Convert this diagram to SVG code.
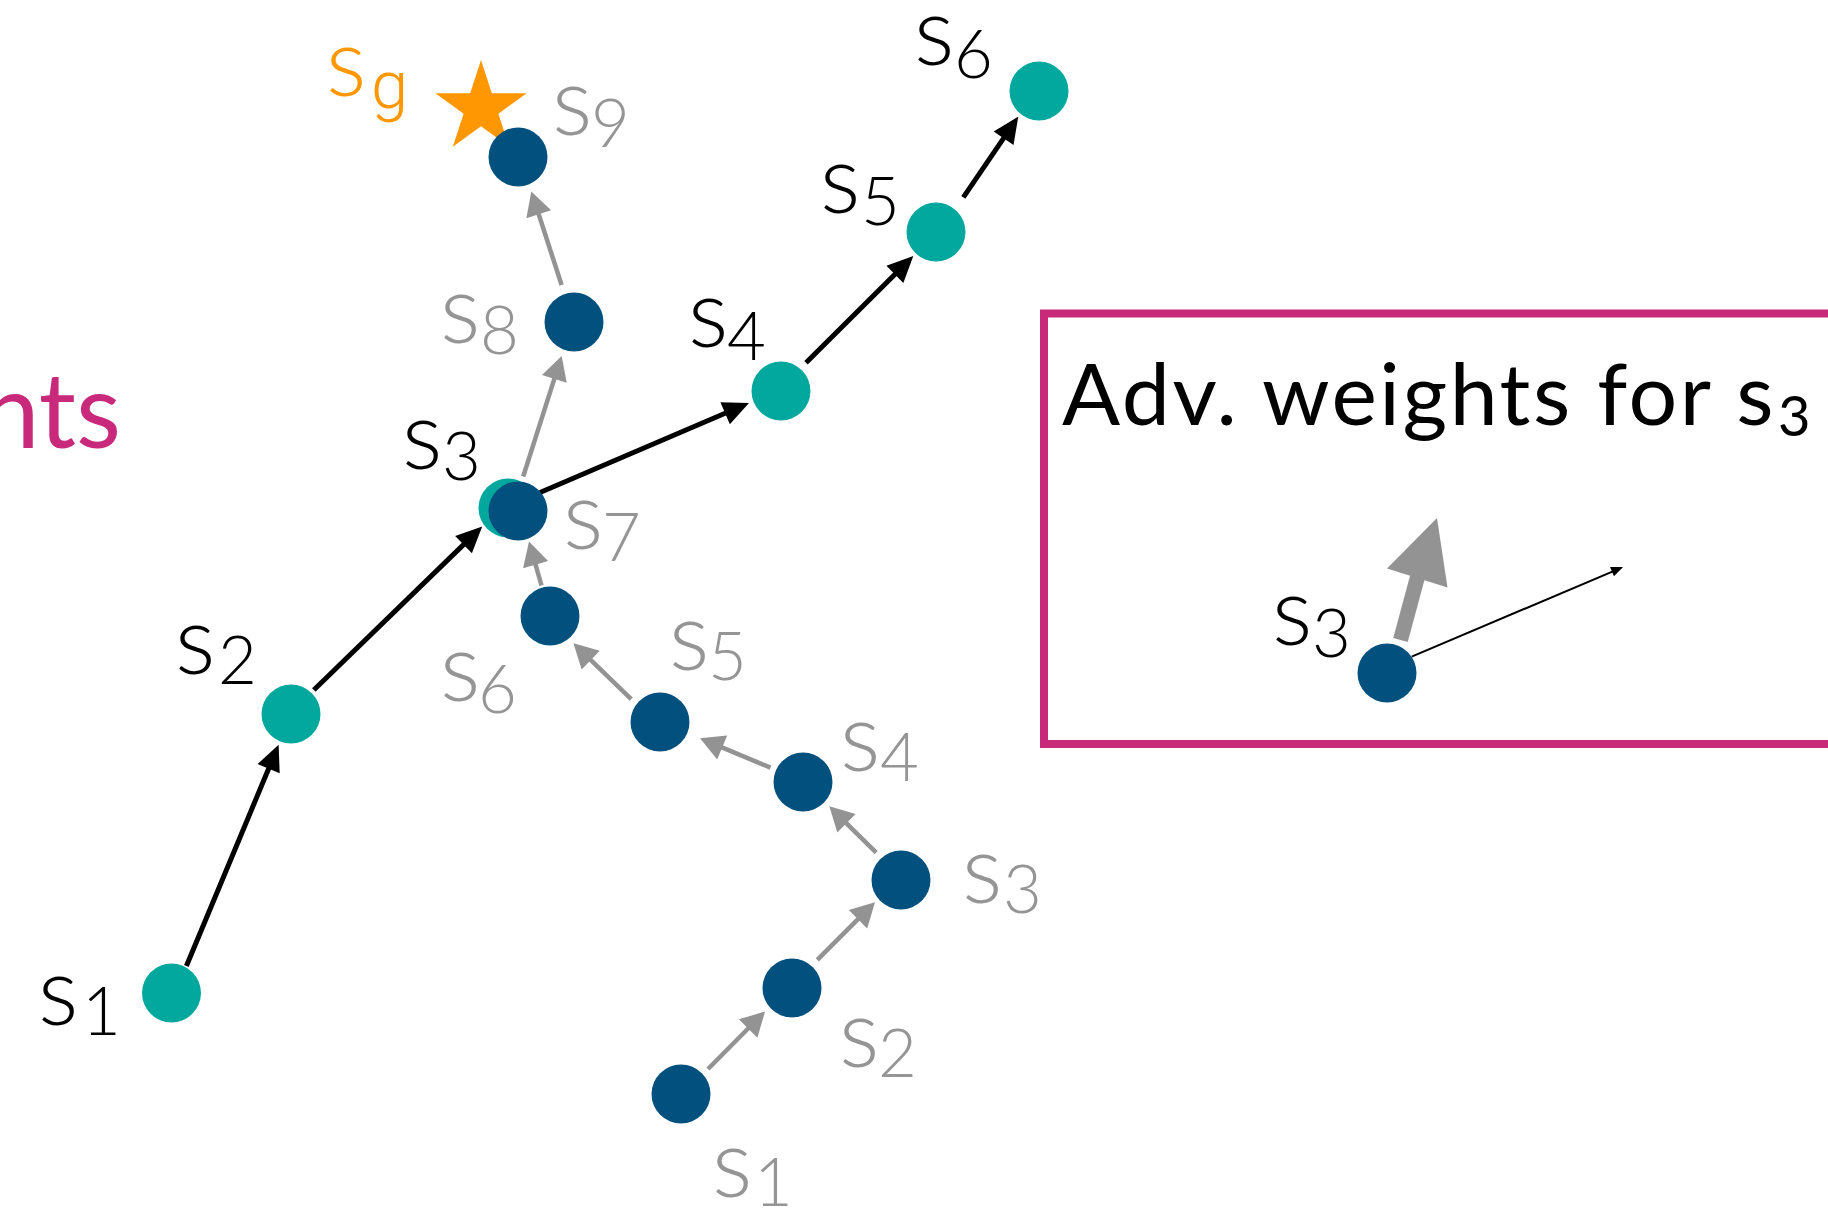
<svg xmlns="http://www.w3.org/2000/svg" width="1828" height="1209" viewBox="0 0 1828 1209">
<defs>
<style>
.lb{font-family:Lato,"Open Sans","DejaVu Sans",sans-serif;font-weight:300;font-size:95px}
.sub{font-size:67px}
.k{fill:#000}
.g{fill:#959595}
.o{fill:#FF9702}
.teal{fill:#02A89E}
.blue{fill:#02507E}
.ck{stroke:#000;stroke-width:5;fill:none}
.cg{stroke:#939393;stroke-width:4.5;fill:none}
</style>
<marker id="hk" markerUnits="userSpaceOnUse" markerWidth="26" markerHeight="24" refX="14" refY="12" orient="auto" overflow="visible">
<path d="M0,0 L26,12 L0,24 Z" fill="#000"/>
</marker>
<marker id="hg" markerUnits="userSpaceOnUse" markerWidth="24" markerHeight="26" refX="12" refY="13" orient="auto" overflow="visible">
<path d="M0,0 L24,13 L0,26 Z" fill="#939393"/>
</marker>
<marker id="hs" markerUnits="userSpaceOnUse" markerWidth="12" markerHeight="10" refX="10" refY="5" orient="auto" overflow="visible">
<path d="M0,0 L12,5 L0,10 Z" fill="#000"/>
</marker>
</defs>
<rect width="1828" height="1209" fill="#fff"/>

<text id="pink-label" x="121" y="448" text-anchor="end" style="font-family:Lato,'Open Sans',sans-serif;font-weight:400;font-size:104px;fill:#C9297B">nts</text>

<g id="goal">
<polygon class="o" points="481,60 491.8,93.2 526.65,93.17 498.4,113.7 509.2,146.8 481,126.3 452.8,146.8 463.6,113.7 435.35,93.17 470.2,93.2"/>
<text class="lb o" x="326" y="96">s<tspan class="sub" x="371" y="108" style="font-family:Roboto,Lato,sans-serif;font-weight:300">g</tspan></text>
</g>

<g id="connectors">
<line class="ck" x1="186.4" y1="966" x2="274" y2="755.8" marker-end="url(#hk)"/>
<line class="ck" x1="313.8" y1="690" x2="473.6" y2="534.9" marker-end="url(#hk)"/>
<line class="ck" x1="540" y1="492.5" x2="738" y2="407.7" marker-end="url(#hk)"/>
<line class="ck" x1="806" y1="362.7" x2="904.8" y2="264.5" marker-end="url(#hk)"/>
<line class="ck" x1="963.3" y1="197.3" x2="1011.5" y2="126.6" marker-end="url(#hk)"/>

<line class="cg" x1="708" y1="1069" x2="756.6" y2="1020" marker-end="url(#hg)"/>
<line class="cg" x1="817.3" y1="959.8" x2="866.5" y2="910.7" marker-end="url(#hg)"/>
<line class="cg" x1="876.2" y1="852.6" x2="837.9" y2="814.8" marker-end="url(#hg)"/>
<line class="cg" x1="770.5" y1="767.7" x2="711.1" y2="742.9" marker-end="url(#hg)"/>
<line class="cg" x1="631.2" y1="699.2" x2="582.1" y2="651.7" marker-end="url(#hg)"/>
<line class="cg" x1="541.5" y1="585.5" x2="532.3" y2="553.1" marker-end="url(#hg)"/>
<line class="cg" x1="523.2" y1="476.5" x2="558" y2="367.4" marker-end="url(#hg)"/>
<line class="cg" x1="561.6" y1="285" x2="535" y2="202.8" marker-end="url(#hg)"/>

<line x1="1400.5" y1="640" x2="1418" y2="575" stroke="#939393" stroke-width="15"/>
<polygon points="1437,518 1387,568.5 1447.5,587.5" fill="#939393"/>
<line x1="1411.7" y1="656.7" x2="1621.2" y2="567.8" stroke="#000" stroke-width="2" marker-end="url(#hs)"/>
</g>

<g id="teal-s1"><circle class="teal" cx="171.5" cy="993" r="29.5"/><text class="lb k" x="38" y="1025">s<tspan class="sub" x="82" y="1035">1</tspan></text></g>
<g id="teal-s2"><circle class="teal" cx="291" cy="714" r="29.5"/><text class="lb k" x="175" y="674">s<tspan class="sub" x="218" y="684">2</tspan></text></g>
<g id="teal-s3"><circle class="teal" cx="508" cy="508" r="29.5"/><text class="lb k" x="402" y="469">s<tspan class="sub" x="442" y="480">3</tspan></text></g>
<g id="teal-s4"><circle class="teal" cx="781" cy="391" r="29.5"/><text class="lb k" x="688" y="347">s<tspan class="sub" x="727" y="360">4</tspan></text></g>
<g id="teal-s5"><circle class="teal" cx="936" cy="232" r="29.5"/><text class="lb k" x="820" y="213">s<tspan class="sub" x="861" y="225">5</tspan></text></g>
<g id="teal-s6"><circle class="teal" cx="1039" cy="91" r="29.5"/><text class="lb k" x="914" y="65">s<tspan class="sub" x="954" y="78">6</tspan></text></g>

<g id="blue-s9"><circle class="blue" cx="518" cy="157" r="29.5"/><text class="lb g" x="552" y="135">s<tspan class="sub" x="591" y="147">9</tspan></text></g>
<g id="blue-s8"><circle class="blue" cx="574" cy="322" r="29.5"/><text class="lb g" x="440" y="343">s<tspan class="sub" x="480" y="354">8</tspan></text></g>
<g id="blue-s7"><circle class="blue" cx="518" cy="511" r="29.5"/><text class="lb g" x="563" y="549">s<tspan class="sub" x="602" y="561">7</tspan></text></g>
<g id="blue-s6"><circle class="blue" cx="550" cy="616" r="29.5"/><text class="lb g" x="440" y="701">s<tspan class="sub" x="478" y="713">6</tspan></text></g>
<g id="blue-s5"><circle class="blue" cx="660" cy="722" r="29.5"/><text class="lb g" x="669" y="670">s<tspan class="sub" x="708" y="680">5</tspan></text></g>
<g id="blue-s4"><circle class="blue" cx="803" cy="782" r="29.5"/><text class="lb g" x="840" y="771">s<tspan class="sub" x="880" y="781">4</tspan></text></g>
<g id="blue-s3"><circle class="blue" cx="901" cy="880" r="29.5"/><text class="lb g" x="962" y="903">s<tspan class="sub" x="1003" y="913">3</tspan></text></g>
<g id="blue-s2"><circle class="blue" cx="792" cy="988" r="29.5"/><text class="lb g" x="839" y="1067">s<tspan class="sub" x="878" y="1077">2</tspan></text></g>
<g id="blue-s1"><circle class="blue" cx="681" cy="1094" r="29.5"/><text class="lb g" x="712" y="1197">s<tspan class="sub" x="754" y="1206">1</tspan></text></g>

<g id="adv-box">
<rect x="1044" y="313.5" width="820" height="430.5" fill="none" stroke="#C9297B" stroke-width="8"/>
<text x="1062" y="425" style="font-family:Lato,'Open Sans',sans-serif;font-weight:400;font-size:86px;letter-spacing:2.5px;fill:#000">Adv. weights for s<tspan dx="2" y="436" style="font-size:56px">3</tspan></text>
</g>
<g id="box-s3"><circle class="blue" cx="1387" cy="673" r="29.5"/><text class="lb k" x="1272" y="645">s<tspan class="sub" x="1312" y="657">3</tspan></text></g>
</svg>
